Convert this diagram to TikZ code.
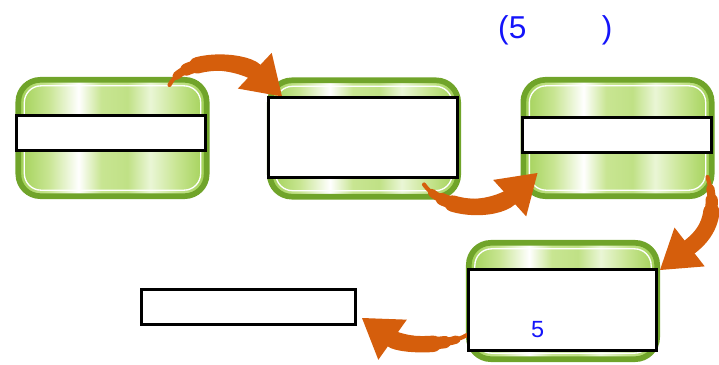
\documentclass[tikz,border=0pt]{standalone}
\usepackage{fontspec}
\usepackage{tikz}
\usetikzlibrary{arrows.meta,shapes,positioning}
\newfontfamily\labelfont{Liberation Sans}
\definecolor{leafdark}{RGB}{112,164,42}
\definecolor{leafmid}{RGB}{160,208,84}
\definecolor{leaflight}{RGB}{200,229,146}
\definecolor{leafpale}{RGB}{234,246,214}
\definecolor{flowc}{RGB}{213,94,12}
\definecolor{numblue}{RGB}{20,20,250}
\pgfdeclarehorizontalshading{leafbar}{100bp}{color(0bp)=(leafmid); color(25bp)=(leafmid); color(33bp)=(leaflight); color(41bp)=(white); color(47bp)=(leaflight); color(54bp)=(leaflight!80!leafmid); color(60bp)=(leafpale); color(67bp)=(leaflight); color(75bp)=(leafmid); color(100bp)=(leafmid)}

\begin{document}
\begin{tikzpicture}[x=0.03cm,y=-0.03cm,
    leaf/.style={draw=leafdark,line width=0.17cm,rounded corners=0.66cm,shade,shading=leafbar,minimum width=5.65cm,minimum height=3.49cm,inner sep=0pt,
      path picture={\draw[white,line width=0.04cm,rounded corners=0.5cm] ([shift={(6,6)}]path picture bounding box.north west) rectangle ([shift={(-6,-6)}]path picture bounding box.south east);}},
    slot/.style={draw=black,fill=white,line width=0.09cm,inner sep=0pt,minimum width=5.67cm,minimum height=1.05cm},
    flow/.style={draw=flowc,line width=14pt,line cap=round,dash pattern=on 2000pt off 30pt,dash phase=2000pt,-{Triangle[length=32pt,width=42pt,line width=0pt]},
      postaction={draw=flowc,line width=10.5pt,line cap=round,dash pattern=on 2000pt off 20pt,dash phase=2000pt,-,shorten >=16pt},
      postaction={draw=flowc,line width=7pt,line cap=round,dash pattern=on 2000pt off 10pt,dash phase=2000pt,-,shorten >=16pt},
      postaction={draw=flowc,line width=3.5pt,line cap=round,solid,-,shorten >=16pt}},
    num/.style={anchor=base west,inner sep=0pt,text=numblue}]
    \useasboundingbox (0,0) rectangle (719,365);
    % green boxes
    \node[leaf] (g1) at (112.5,138) {};
    \node[leaf] (g2) at (364,138.5) {};
    \node[leaf] (g3) at (617.5,138) {};
    \node[leaf] (g4) at (563,301) {};
    \node[slot,minimum width=6.42cm] (r5) at (248.5,307) {};
    % arrows
    \draw[flow] ([shift={(-40,8)}]g1.north east) .. controls +(15,-30) and +(-38,-36) .. ([shift={(15,19)}]g2.north west);
    \draw[flow] ([shift={(-37,-15)}]g2.south east) .. controls +(20,28) and +(-42,38) .. ([shift={(17,-26)}]g3.south west);
    \draw[flow] ([shift={(-7,-22)}]g3.south east) .. controls +(12,40) and +(45,-35) .. ([shift={(0,30)}]g4.north east);
    \draw[flow] ([shift={(1,-27)}]g4.south west) .. controls +(-22,13) and +(38,27) .. ([shift={(5,-8)}]r5.south east);
    % white slots
    \node[slot] (r1) at (111,133) {};
    \node[slot,minimum height=2.4cm] (r2) at (363,137.5) {};
    \node[slot] (r3) at (617,135) {};
    \node[slot,minimum width=5.64cm,minimum height=2.43cm] (r4) at (562.5,310) {};
    \node[num,font=\labelfont\fontsize{27}{32}\selectfont] (title) at (498,38) {(5\hspace{64.5pt})};
    \node[num,font=\labelfont\fontsize{20}{24}\selectfont] (count) at (531,337) {5};
\end{tikzpicture}
\end{document}
